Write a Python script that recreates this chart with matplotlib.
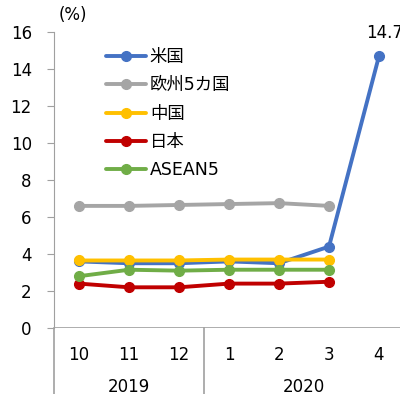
import numpy as np
import matplotlib.pyplot as plt
import matplotlib.transforms as mtransforms

plt.rcParams['font.family'] = ['DejaVu Sans', 'Noto Sans CJK JP']

months = ['10', '11', '12', '1', '2', '3', '4']
years = ['2019', '2020']
us = [3.6, 3.5, 3.5, 3.6, 3.5, 4.4, 14.7]
eu5 = [6.6, 6.6, 6.65, 6.7, 6.75, 6.6]
china = [3.65, 3.65, 3.65, 3.7, 3.7, 3.7]
japan = [2.4, 2.2, 2.2, 2.4, 2.4, 2.5]
asean5 = [2.8, 3.15, 3.1, 3.15, 3.15, 3.15]

series = [
    ('米国', us, '#4472C4'),
    ('欧州5カ国', eu5, '#A5A5A5'),
    ('中国', china, '#FFC000'),
    ('日本', japan, '#C00000'),
    ('ASEAN5', asean5, '#70AD47'),
]

fig = plt.figure(figsize=(4.0, 3.94), dpi=100)
ax = fig.add_axes([0.135, 0.1675, 0.875, 0.7513])

for name, vals, col in series:
    x = np.arange(len(vals))
    ax.plot(x, vals, color=col, lw=2.8, marker='o', ms=7, label=name,
            solid_capstyle='round')

ax.annotate(f'{us[-1]:.1f}', (6, us[-1]), xytext=(4, 10), textcoords='offset points',
            ha='center', va='bottom', fontsize=12, annotation_clip=False)

ax.set_xlim(-0.5, 6.5)
ax.set_ylim(0, 16)
ax.set_yticks(range(0, 17, 2))
ax.tick_params(axis='y', labelsize=12, length=5, color='#A0A0A0', pad=11)
ax.set_xticks([])

for s in ['top', 'right', 'bottom']:
    ax.spines[s].set_visible(False)
ax.spines['left'].set_color('#A0A0A0')
ax.spines['left'].set_bounds(0, 16)
ax.axhline(0, color='#A0A0A0', lw=1.2)

# two-level category axis
trans = mtransforms.blended_transform_factory(ax.transData, ax.transAxes)
for xs in [-0.5, 2.5, 6.5]:
    ax.plot([xs, xs], [0, -0.23], color='#A0A0A0', lw=1.2, transform=trans, clip_on=False)
for i, m in enumerate(months):
    ax.text(i, -0.09, m, transform=trans, ha='center', va='center', fontsize=12)
ax.text(1, -0.2, years[0], transform=trans, ha='center', va='center', fontsize=12)
ax.text(4.5, -0.2, years[1], transform=trans, ha='center', va='center', fontsize=12)

ax.text(0.055, 1.058, '(%)', transform=ax.transAxes, ha='center', va='center', fontsize=12)

ax.legend(loc='upper left', bbox_to_anchor=(0.13, 0.97), frameon=False, fontsize=12.5,
          handlelength=2.3, handletextpad=0.2, labelspacing=0.6, borderaxespad=0)

fig.savefig('out.png', dpi=100)
